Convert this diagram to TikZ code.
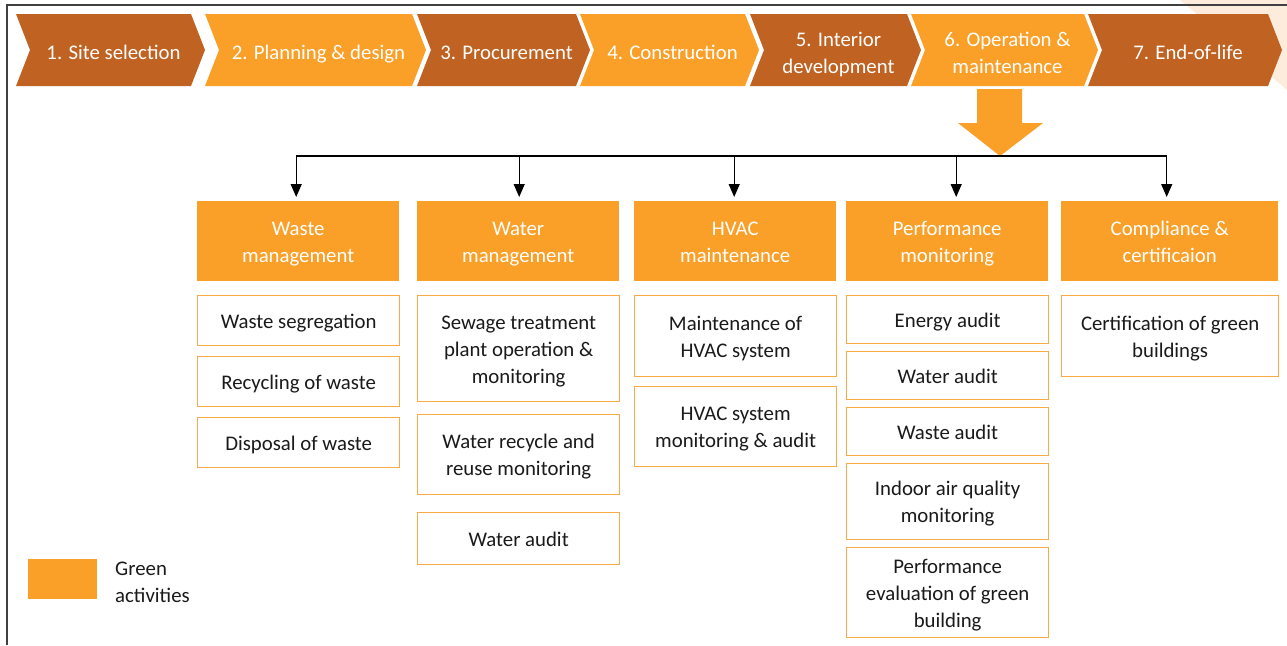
\documentclass[tikz,border=0pt]{standalone}
\usepackage{fontspec}
\setmainfont{Carlito}
\usetikzlibrary{arrows.meta,calc}
\definecolor{brick}{RGB}{192,99,34}
\definecolor{amber}{RGB}{250,160,40}
\definecolor{peach}{RGB}{253,236,220}
\definecolor{rim}{RGB}{248,170,70}
\definecolor{ink}{RGB}{26,26,26}
% fixed line height, so that every label sits the same way in its box
\newcommand\boxstrut{\rule[-5pt]{0pt}{25pt}}

\tikzset{
  lbl/.style={align=center, inner sep=0},
  head/.style={lbl, fill=amber, text=white, minimum width=202, minimum height=80,
    anchor=north west},
  sub/.style={lbl, draw=rim, line width=1.3, fill=white, text=ink, anchor=north west},
  link/.style={line width=1.3, -{Triangle[length=13pt,width=11pt]}, shorten >=4pt},
}

\begin{document}
\begin{tikzpicture}[x=1pt, y=-1pt, font=\fontsize{20.8}{27}\selectfont]
  \useasboundingbox (0,0) rectangle (1287,645);
  \fill[peach] (1180,0) -- (1287,0) -- (1287,90) -- cycle;
  \draw[line width=1.5, black!75] (7,645) -- (7,5) -- (1287,5);

  % life-cycle phases
  \foreach \i/\xs/\xe/\col/\txt in {1/16/191/brick/{1. Site selection},
      2/205/412/amber/{2. Planning \& design}, 3/417/576/brick/{3. Procurement},
      4/580/745/amber/{4. Construction}, 5/750/907/brick/{5. Interior\\development},
      6/911/1084/amber/{6. Operation \&\\maintenance}, 7/1088/1268/brick/{7. End-of-life}}{
    \fill[\col] (\xs,14) -- (\xe,14) -- (\xe+14,50) -- (\xe,86) -- (\xs,86) -- (\xs+14,50) -- cycle;
    \node[lbl, text=white] (ph\i) at ({(\xs+\xe)/2+10},52) {\boxstrut\txt\boxstrut};
  }

  \coordinate (bus) at (1000,156);
  \fill[amber] (977,89) -- (1022,89) -- (1022,123) -- (1043,123) -- (bus)
    -- (958,123) -- (977,123) -- cycle;

  % green activity groups
  \foreach \n/\x/\w/\txt in {hd1/197/202/{Waste\\management}, hd2/417/202/{Water\\management},
      hd3/634/202/{HVAC\\maintenance}, hd4/846/202/{Performance\\monitoring},
      hd5/1061/217/{Compliance \&\\certificaion}}
    \node[head, minimum width=\w] (\n) at (\x,201) {\boxstrut\txt\boxstrut};

  \foreach \n/\dx in {hd1/-2, hd2/1, hd3/-1, hd4/9, hd5/-3}
    \coordinate (\n t) at ($(\n.north)+(\dx,0)$);
  \draw[line width=1.3] (hd1t |- bus) -- (hd5t |- bus);
  \foreach \n in {hd1,hd2,hd3,hd4,hd5}
    \draw[link] (\n t |- bus) -- (\n t);

  \foreach \n/\x/\y/\h/\w/\txt in {
      w1/197/295/50/202/{Waste segregation}, w2/197/356/50/202/{Recycling of waste},
      w3/197/417/50/202/{Disposal of waste},
      r1/417/295/106/202/{Sewage treatment\\plant operation \&\\monitoring},
      r2/417/414/80/202/{Water recycle and\\reuse monitoring}, r3/417/512/52/202/{Water audit},
      v1/634/295/81/202/{Maintenance of\\HVAC system}, v2/634/386/80/202/{HVAC system\\monitoring \& audit},
      p1/846/295/48/202/{Energy audit}, p2/846/351/48/202/{Water audit},
      p3/846/407/48/202/{Waste audit}, p4/846/463/76/202/{Indoor air quality\\monitoring},
      p5/846/547/90/202/{Performance\\evaluation of green\\building},
      c1/1061/295/81/217/{Certification of green\\buildings}}
    \node[sub, minimum width=\w, minimum height=\h] (\n) at (\x,\y) {\boxstrut\txt\boxstrut};

  % legend
  \node[fill=amber, minimum width=69, minimum height=40, anchor=north west, inner sep=0] (key) at (28,559) {};
  \node[anchor=west, align=left, text=ink, inner sep=0] (keytxt) at (115,582) {Green\\activities};
\end{tikzpicture}
\end{document}
